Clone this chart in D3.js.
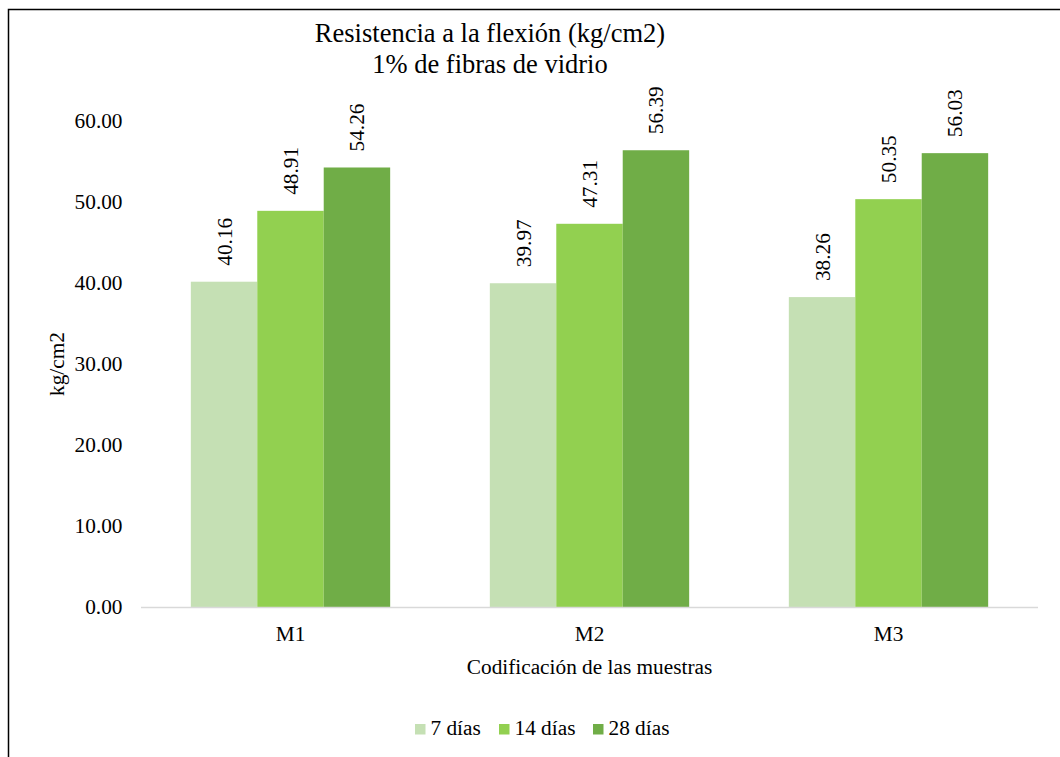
<!DOCTYPE html>
<html>
<head>
<meta charset="utf-8">
<script src="https://cdn.jsdelivr.net/npm/d3@7"></script>
<style>
  html, body { margin: 0; padding: 0; background: #fff; }
  svg { display: block; font-family: "Liberation Serif", "Times New Roman", serif; }
</style>
</head>
<body>
<svg id="chart" width="1060" height="757"></svg>
<script>
// Flexural strength by sample and curing age
const categories = ["M1", "M2", "M3"];
const seriesNames = ["7 días", "14 días", "28 días"];
const values7 = [40.16, 39.97, 38.26];
const values14 = [48.91, 47.31, 50.35];
const values28 = [54.26, 56.39, 56.03];
const yTicks = [0, 10, 20, 30, 40, 50, 60];
const seriesColors = ["#c5e0b4", "#92d050", "#70ad47"];

const seriesValues = [values7, values14, values28];
const rows = categories.map((c, i) => ({
  cat: c,
  vals: seriesNames.map((s, j) => ({ series: s, idx: j, value: seriesValues[j][i] }))
}));

const FS = 21.3;
const svg = d3.select("#chart");

// outer frame
svg.append("rect")
  .attr("x", 8.5).attr("y", 9.5)
  .attr("width", 1100).attr("height", 800)
  .attr("fill", "none").attr("stroke", "#000").attr("stroke-width", 1.5);

const plot = { left: 141, right: 1038, top: 121, bottom: 607 };

const x = d3.scaleBand().domain(categories).range([plot.left, plot.right]).paddingInner(0).paddingOuter(0);
const groupW = x.bandwidth() * (3 / 4.5);
const xs = d3.scaleBand().domain(seriesNames).range([0, groupW]);
const y = d3.scaleLinear().domain([0, 60]).range([plot.bottom, plot.top]);

// y tick labels
svg.append("g")
  .selectAll("text").data(yTicks).join("text")
  .attr("x", plot.left - 18.5)
  .attr("y", d => y(d))
  .attr("dy", "0.35em")
  .attr("text-anchor", "end")
  .attr("font-size", FS)
  .attr("fill", "#000")
  .text(d => d3.format(".2f")(d));

// bars
const groups = svg.append("g").selectAll("g").data(rows).join("g")
  .attr("transform", d => `translate(${x(d.cat) + (x.bandwidth() - groupW) / 2},0)`);

groups.selectAll("rect").data(d => d.vals).join("rect")
  .attr("x", d => xs(d.series))
  .attr("width", xs.bandwidth())
  .attr("y", d => y(d.value))
  .attr("height", d => y(0) - y(d.value))
  .attr("fill", d => seriesColors[d.idx]);

// value labels, rotated
groups.selectAll("text").data(d => d.vals).join("text")
  .attr("transform", d => `translate(${xs(d.series) + xs.bandwidth() / 2},${y(d.value) - 16}) rotate(-90)`)
  .attr("dy", "0.35em")
  .attr("text-anchor", "start")
  .attr("font-size", FS)
  .attr("fill", "#000")
  .text(d => d3.format(".2f")(d.value));

// x axis baseline
svg.append("line")
  .attr("x1", plot.left).attr("x2", plot.right)
  .attr("y1", y(0) + 0.5).attr("y2", y(0) + 0.5)
  .attr("stroke", "#d9d9d9").attr("stroke-width", 1.5);

// category labels
svg.append("g").selectAll("text").data(categories).join("text")
  .attr("x", d => x(d) + x.bandwidth() / 2)
  .attr("y", 640.5)
  .attr("text-anchor", "middle")
  .attr("font-size", FS)
  .attr("fill", "#000")
  .text(d => d);

// axis titles
svg.append("text")
  .attr("x", (plot.left + plot.right) / 2)
  .attr("y", 673.5)
  .attr("text-anchor", "middle")
  .attr("font-size", FS)
  .text("Codificación de las muestras");

svg.append("text")
  .attr("transform", `translate(57,${(plot.top + plot.bottom) / 2}) rotate(-90)`)
  .attr("dy", "0.35em")
  .attr("text-anchor", "middle")
  .attr("font-size", FS)
  .text("kg/cm2");

// title
const title = svg.append("text").attr("text-anchor", "middle").attr("font-size", 26.5);
title.append("tspan").attr("x", 490).attr("y", 42).text("Resistencia a la flexión (kg/cm2)");
title.append("tspan").attr("x", 490).attr("y", 72.5).text("1% de fibras de vidrio");

// legend
const legendX = [415, 499, 593];
const legend = svg.append("g").selectAll("g").data(seriesNames).join("g")
  .attr("transform", (d, i) => `translate(${legendX[i]},724)`);
legend.append("rect").attr("width", 10.5).attr("height", 10.5)
  .attr("fill", (d, i) => seriesColors[i]);
legend.append("text").attr("x", 15.5).attr("y", 11)
  .attr("font-size", FS).text(d => d);
</script>
</body>
</html>
